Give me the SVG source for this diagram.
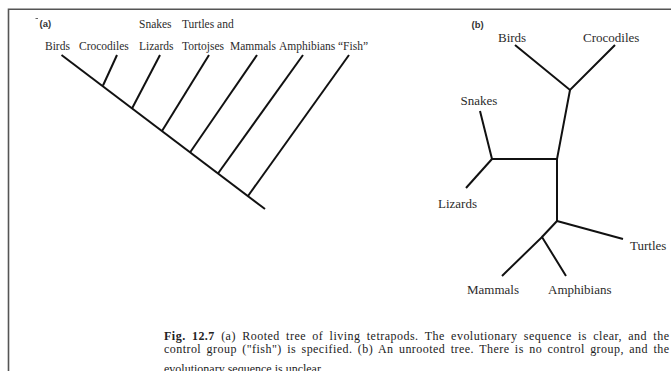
<svg xmlns="http://www.w3.org/2000/svg" width="671" height="371" viewBox="0 0 671 371">
  <defs>
    <style>
      .frame { stroke: #555; stroke-width: 1.6; fill: none; }
      .br { stroke: #111; stroke-width: 2; fill: none; stroke-linecap: butt; }
      .la { font-family: "Liberation Serif", "Times New Roman", serif; font-size: 11.5px; fill: #2b2b2b; }
      .lb { font-family: "Liberation Serif", "Times New Roman", serif; font-size: 13px; fill: #2b2b2b; }
      .tag { font-family: "Liberation Sans", Arial, sans-serif; font-size: 9.5px; font-weight: bold; fill: #333; }
      .cap { font-family: "Liberation Serif", "Times New Roman", serif; font-size: 12px; fill: #222; }
    </style>
  </defs>
  <rect width="671" height="371" fill="#fff"/>

  <!-- page frame -->
  <path class="frame" d="M8.5,371 V9.2 H671"/>

  <!-- panel (a): rooted tree -->
  <g id="panel-a-labels">
    <path d="M35.5,18.5 h2.5" stroke="#666" stroke-width="1"/>
    <text class="tag" x="39.5" y="27">(a)</text>
    <text class="la" x="139" y="28">Snakes</text>
    <text class="la" x="182" y="28">Turtles and</text>
  </g>
  <g id="a-birds"><text class="la" x="45" y="49.5">Birds</text></g>
  <g id="a-crocodiles"><text class="la" x="79" y="49.5">Crocodiles</text></g>
  <g id="a-lizards"><text class="la" x="139" y="49.5">Lizards</text></g>
  <g id="a-tortoises"><text class="la" x="182" y="49.5">Tortojses</text></g>
  <g id="a-mammals"><text class="la" x="230" y="49.5">Mammals</text></g>
  <g id="a-amphibians"><text class="la" x="279" y="49.5">Amphibians</text></g>
  <g id="a-fish"><text class="la" x="338" y="49.5">“Fish”</text></g>

  <g id="connectors-a">
    <line class="br" x1="61.5" y1="55" x2="265" y2="209"/>
    <line class="br" x1="117" y1="55" x2="103" y2="85.5"/>
    <line class="br" x1="160" y1="55" x2="132" y2="108.5"/>
    <line class="br" x1="209" y1="55" x2="162" y2="131"/>
    <line class="br" x1="257" y1="55" x2="190" y2="152.5"/>
    <line class="br" x1="303" y1="55" x2="218" y2="173.5"/>
    <line class="br" x1="349" y1="55" x2="248" y2="196"/>
  </g>

  <!-- panel (b): unrooted tree -->
  <g id="panel-b-label"><text class="tag" x="471.5" y="27.5">(b)</text></g>
  <g id="b-birds"><text class="lb" x="498" y="42">Birds</text></g>
  <g id="b-crocodiles"><text class="lb" x="583" y="42">Crocodiles</text></g>
  <g id="b-snakes"><text class="lb" x="460.5" y="105">Snakes</text></g>
  <g id="b-lizards"><text class="lb" x="438" y="208">Lizards</text></g>
  <g id="b-turtles"><text class="lb" x="630" y="250">Turtles</text></g>
  <g id="b-mammals"><text class="lb" x="467" y="293.5">Mammals</text></g>
  <g id="b-amphibians"><text class="lb" x="548" y="293.5">Amphibians</text></g>

  <g id="connectors-b">
    <polyline class="br" points="515,45 570,90 615,45"/>
    <polyline class="br" points="570,90 557,159 557,221"/>
    <polyline class="br" points="480,111 492,159 557,159"/>
    <line class="br" x1="492" y1="159" x2="466" y2="188"/>
    <line class="br" x1="557" y1="221" x2="623" y2="239"/>
    <line class="br" x1="557" y1="221" x2="542" y2="237"/>
    <polyline class="br" points="502,276 542,237 566,276"/>
  </g>

  <!-- caption: justified lines, widened at the word gaps -->
  <g id="caption">
    <text class="cap" x="164" y="340" word-spacing="2.8" textLength="505" lengthAdjust="spacing"><tspan font-weight="bold">Fig. 12.7</tspan> (a) Rooted tree of living tetrapods. The evolutionary sequence is clear, and the</text>
    <text class="cap" x="164" y="352.5" word-spacing="2" textLength="505" lengthAdjust="spacing">control group ("fish") is specified. (b) An unrooted tree. There is no control group, and the</text>
    <text class="cap" x="164" y="373">evolutionary sequence is unclear.</text>
  </g>
</svg>
